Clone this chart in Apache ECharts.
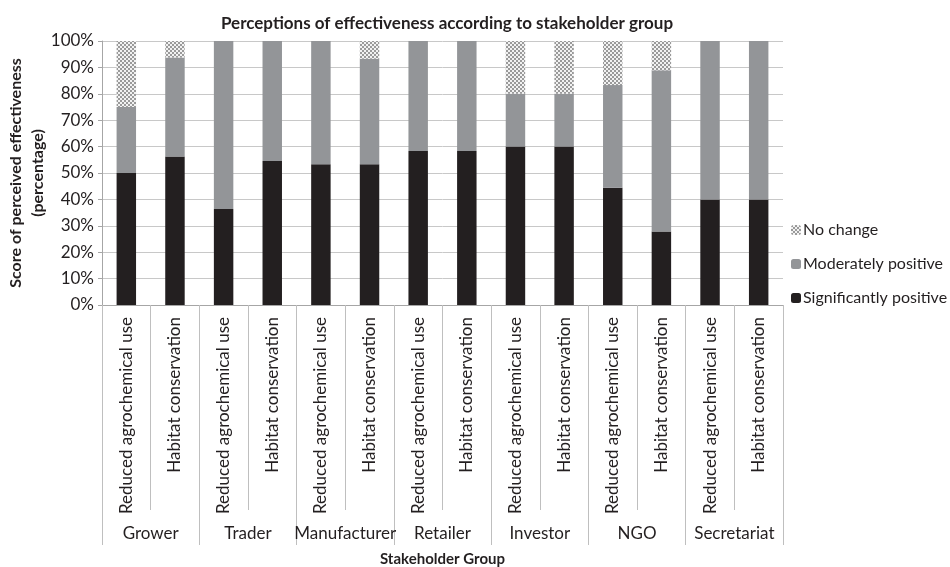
<!DOCTYPE html>
<html>
<head>
<meta charset="utf-8">
<script src="https://cdn.jsdelivr.net/npm/echarts@6/dist/echarts.min.js"></script>
<style>
  html, body { margin: 0; padding: 0; background: #fff; }
  #chart { width: 950px; height: 567px; }
</style>
</head>
<body>
<div id="chart"></div>
<script>
var groups = ['Grower', 'Trader', 'Manufacturer', 'Retailer', 'Investor', 'NGO', 'Secretariat'];
var measures = ['Reduced agrochemical use', 'Habitat conservation'];
var significantly = [50, 56.25, 36.4, 54.5, 53.3, 53.3, 58.3, 58.3, 60, 60, 44.4, 27.8, 40, 40];
var moderately = [25, 37.5, 63.6, 45.5, 46.7, 40, 41.7, 41.7, 20, 20, 38.9, 61.1, 60, 60];
var noChange = [25, 6.25, 0, 0, 0, 6.7, 0, 0, 20, 20, 16.7, 11.1, 0, 0];

var categories = [];
groups.forEach(function () {
  measures.forEach(function (m) { categories.push(m); });
});

// checker pattern for "No change"
var pat = document.createElement('canvas');
pat.width = 4;
pat.height = 4;
var pctx = pat.getContext('2d');
pctx.fillStyle = '#f2f2f2';
pctx.fillRect(0, 0, 4, 4);
pctx.fillStyle = '#9a9a9a';
pctx.fillRect(0, 0, 2, 2);
pctx.fillRect(2, 2, 2, 2);

var FONT = 'Lato';
var myChart = echarts.init(document.getElementById('chart'));

myChart.setOption({
  animation: false,
  textStyle: { fontFamily: FONT, color: '#231f20' },
  title: {
    text: 'Perceptions of effectiveness according to stakeholder group',
    left: 442,
    textAlign: 'center',
    top: 10,
    textStyle: { fontFamily: FONT, fontSize: 17, fontWeight: 'bold', color: '#231f20' }
  },
  legend: {
    orient: 'vertical',
    left: 786,
    top: 217,
    itemWidth: 10,
    itemHeight: 10,
    itemGap: 18,
    textStyle: { fontFamily: FONT, fontSize: 16, color: '#231f20', padding: [0, 0, 0, -3] },
    data: ['No change', 'Moderately positive', 'Significantly positive']
  },
  grid: { left: 102, right: 167, top: 41, bottom: 262, containLabel: false, outerBoundsMode: 'none' },
  xAxis: [
    {
      type: 'category',
      data: categories,
      axisLine: { show: true, lineStyle: { color: '#a6a6a6', width: 1 } },
      axisTick: { show: true, length: 205, lineStyle: { color: '#bfbfbf' } },
      axisLabel: {
        rotate: 90,
        interval: 0,
        margin: 12,
        fontSize: 17,
        fontFamily: FONT,
        color: '#231f20'
      }
    },
    {
      type: 'category',
      position: 'bottom',
      data: groups,
      name: 'Stakeholder Group',
      nameLocation: 'middle',
      nameGap: 247,
      nameMoveOverlap: false,
      nameTextStyle: { fontFamily: FONT, fontSize: 15, fontWeight: 'bold', color: '#231f20' },
      axisLine: { show: false },
      axisTick: { show: true, length: 240, lineStyle: { color: '#bfbfbf' } },
      axisLabel: { interval: 0, margin: 220, fontSize: 17, fontFamily: FONT, color: '#231f20' }
    }
  ],
  yAxis: {
    type: 'value',
    min: 0,
    max: 100,
    interval: 10,
    name: 'Score of perceived effectiveness\n(percentage)',
    nameLocation: 'middle',
    nameRotate: 90,
    nameGap: 53,
    nameMoveOverlap: false,
    nameTextStyle: { fontFamily: FONT, fontSize: 16, fontWeight: 'bold', color: '#231f20', lineHeight: 22 },
    axisLine: { show: true, lineStyle: { color: '#a6a6a6' } },
    axisTick: { show: true, length: 4, inside: false, lineStyle: { color: '#a6a6a6' } },
    splitLine: { lineStyle: { color: '#c8c8c8', width: 1 } },
    axisLabel: {
      formatter: '{value}%',
      fontSize: 17,
      fontFamily: FONT,
      color: '#231f20',
      margin: 8
    }
  },
  series: [
    {
      name: 'Significantly positive',
      type: 'bar',
      stack: 'total',
      barWidth: '40%',
      itemStyle: { color: '#231f20' },
      data: significantly
    },
    {
      name: 'Moderately positive',
      type: 'bar',
      stack: 'total',
      barWidth: '40%',
      itemStyle: { color: '#939598' },
      data: moderately
    },
    {
      name: 'No change',
      type: 'bar',
      stack: 'total',
      barWidth: '40%',
      itemStyle: { color: { image: pat, repeat: 'repeat' } },
      data: noChange
    }
  ]
});
</script>
</body>
</html>
